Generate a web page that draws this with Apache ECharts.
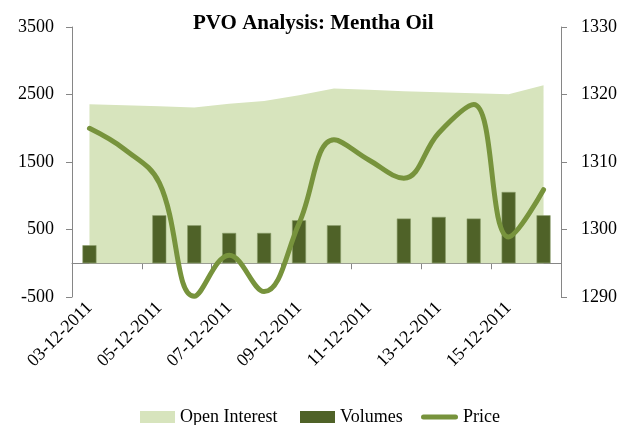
<!DOCTYPE html>
<html><head><meta charset="utf-8">
<script src="https://cdn.jsdelivr.net/npm/echarts@6/dist/echarts.min.js"></script>
<style>html,body{margin:0;padding:0;background:#fff}#c{width:629px;height:425px}</style>
</head><body><div id="c"></div>
<script>
const categories = ['03-12-2011','04-12-2011','05-12-2011','06-12-2011','07-12-2011','08-12-2011','09-12-2011','10-12-2011','11-12-2011','12-12-2011','13-12-2011','14-12-2011','15-12-2011','16-12-2011'];
const openInterest = [2356,2341,2326,2307,2363,2404,2489,2588,2570,2548,2533,2519,2504,2637];
const volumes = [267,null,711,563,449,449,637,563,null,662,686,662,1056,711];
const price = [1315.0,1311.9,1306.9,1290.1,1296.2,1290.8,1300.9,1313.3,1310.3,1307.6,1314.3,1318.5,1298.9,1305.9];
const leftTicks = [-500,500,1500,2500,3500];
const rightTicks = [1290,1300,1310,1320,1330];

const FONT = 'Liberation Serif';
const AXIS_COLOR = '#868686';
const chart = echarts.init(document.getElementById('c'), null, {renderer:'canvas'});
const legendText = {fontFamily: FONT, fontSize: 18, color: '#000'};
const plain = v => String(v);
chart.setOption({
  animation: false,
  backgroundColor: '#fff',
  title: {
    text: 'PVO Analysis: Mentha Oil',
    left: 188, top: 8,
    textStyle: {fontFamily: FONT, fontSize: 21, fontWeight: 'bold', color: '#000'}
  },
  legend: [
    {data: [{name:'Open Interest', icon:'rect'}], left: 135, top: 403, itemWidth: 35, itemHeight: 12, itemGap: 0, textStyle: legendText},
    {data: [{name:'Volumes', icon:'rect', itemStyle: {borderWidth: 0}}], left: 295, top: 403, itemWidth: 35, itemHeight: 12, itemGap: 0, itemStyle: {borderWidth: 0}, textStyle: legendText},
    {data: [{name:'Price', icon:'path://M2.5,0 L34.5,0 A2.5,2.5 0 0 1 34.5,5 L2.5,5 A2.5,2.5 0 0 1 2.5,0 Z'}], left: 416, top: 403, itemWidth: 37, itemHeight: 5, itemGap: 0, textStyle: legendText}
  ],
  grid: {left: 72, right: 68, top: 27, bottom: 128, containLabel: false},
  xAxis: [
    {
      type: 'category', data: categories, position: 'bottom', boundaryGap: true,
      axisLine: {show: true, onZero: true, lineStyle: {color: AXIS_COLOR, width: 1}},
      axisTick: {show: true, interval: 1, length: 6, lineStyle: {color: AXIS_COLOR}},
      axisLabel: {show: false},
      splitLine: {show: false}
    },
    {
      type: 'category', data: categories, position: 'bottom', boundaryGap: true,
      axisLine: {show: false, onZero: false},
      axisTick: {show: false},
      axisLabel: {show: true, interval: 1, rotate: 45, margin: 8, fontFamily: FONT, fontSize: 18, color: '#000'},
      splitLine: {show: false}
    }
  ],
  yAxis: [
    {
      type: 'value', min: -500, max: 3500, position: 'left',
      axisLine: {show: true, lineStyle: {color: AXIS_COLOR}},
      axisTick: {show: true, length: 6, customValues: leftTicks, lineStyle: {color: AXIS_COLOR}},
      axisLabel: {customValues: leftTicks, formatter: plain, margin: 18, fontFamily: FONT, fontSize: 18, color: '#000'},
      splitLine: {show: false}
    },
    {
      type: 'value', min: 1290, max: 1330, interval: 10, position: 'right',
      axisLine: {show: true, lineStyle: {color: AXIS_COLOR}},
      axisTick: {show: true, length: 6, lineStyle: {color: AXIS_COLOR}},
      axisLabel: {formatter: plain, margin: 20, fontFamily: FONT, fontSize: 18, color: '#000'},
      splitLine: {show: false}
    }
  ],
  series: [
    {
      name: 'Open Interest', type: 'line', data: openInterest, xAxisIndex: 0, yAxisIndex: 0,
      symbol: 'none', lineStyle: {width: 0, color: '#d7e4bd'},
      itemStyle: {color: '#d7e4bd'},
      areaStyle: {color: '#d7e4bd', opacity: 1}, z: 1
    },
    {
      name: 'Volumes', type: 'bar', data: volumes, xAxisIndex: 0, yAxisIndex: 0,
      barWidth: 14, itemStyle: {color: '#4f6228', borderColor: '#8a9c6a', borderWidth: 0.6}, z: 2
    },
    {
      name: 'Price', type: 'line', data: price, xAxisIndex: 0, yAxisIndex: 1,
      symbol: 'none', smooth: 0.4,
      lineStyle: {width: 5, color: '#77933c', cap: 'round', join: 'round'},
      itemStyle: {color: '#77933c'}, z: 3
    }
  ]
});
</script>
</body></html>
